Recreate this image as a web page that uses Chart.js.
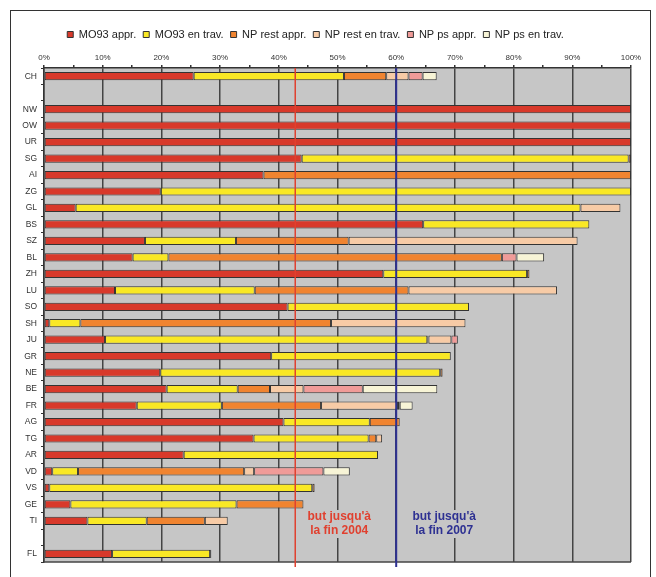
<!DOCTYPE html>
<html>
<head>
<meta charset="utf-8">
<script src="https://cdn.jsdelivr.net/npm/chart.js@4/dist/chart.umd.min.js"></script>
<style>
  html, body { margin: 0; padding: 0; background: #fff; }
  #wrap { width: 656px; height: 577px; }
</style>
</head>
<body>
<div id="wrap"><canvas id="myChart" width="656" height="577"></canvas></div>
<script>
// cantons (blank entries are the gaps in the list)
var cantons = ["CH", " ", "NW", "OW", "UR", "SG", "AI", "ZG", "GL", "BS", "SZ", "BL", "ZH", "LU", "SO",
               "SH", "JU", "GR", "NE", "BE", "FR", "AG", "TG", "AR", "VD", "VS", "GE", "TI", "  ", "FL"];

var seriesNames = ["MO93 appr.", "MO93 en trav.", "NP rest appr.", "NP rest en trav.", "NP ps appr.", "NP ps en trav."];

// percentages per segment
var mo93Appr     = [25.5, null, 100, 100, 100, 43.9, 37.4, 19.9, 5.4, 64.6, 17.2, 15.1, 57.8, 12.1, 41.5,
                    0.9, 10.4, 38.7, 19.8, 20.9, 15.8, 40.8, 35.7, 23.8, 1.4, 0.9, 4.5, 7.4, null, 11.6];
var mo93Trav     = [25.6, null, null, null, null, 55.7, null, 80.1, 86.0, 28.3, 15.5, 6.1, 24.5, 23.8, 30.9,
                    5.3, 54.9, 30.6, 47.7, 12.1, 14.5, 14.7, 19.6, 33.1, 4.4, 44.8, 28.3, 10.1, null, 16.7];
var npRestAppr   = [7.2, null, null, null, null, 0.4, 62.6, null, null, null, 19.2, 56.8, 0.4, 26.2, null,
                    42.7, 0.2, null, 0.4, 5.5, 16.9, 5.1, 1.3, null, 28.3, 0.4, 11.4, 9.9, null, 0.2];
var npRestTrav   = [3.8, null, null, null, null, null, null, null, 6.8, null, 39.0, null, null, 25.3, null,
                    22.9, 3.9, null, null, 5.7, 13.1, null, 1.0, null, 1.7, null, null, 3.9, null, null];
var npPsAppr     = [2.4, null, null, null, null, null, null, null, null, null, null, 2.5, null, null, null,
                    null, 1.1, null, null, 10.1, 0.3, null, null, null, 11.8, null, null, null, null, null];
var npPsTrav     = [2.4, null, null, null, null, null, null, null, null, null, null, 4.7, null, null, null,
                    null, null, null, null, 12.7, 2.2, null, null, null, 4.5, null, null, null, null, null];

var goals = [42.8, 60];
var goalTexts = [["but jusqu'à", "la fin 2004"], ["but jusqu'à", "la fin 2007"]];

var colors = ["#d8392b", "#f9e825", "#f08430", "#f7cba6", "#f09b98", "#f7f4d6"];
var goalColors = ["#e0402f", "#2e3192"];

var seriesData = [mo93Appr, mo93Trav, npRestAppr, npRestTrav, npPsAppr, npPsTrav];

var datasets = [];
for (var i = 0; i < seriesNames.length; i++) {
  datasets.push({
    label: seriesNames[i],
    data: seriesData[i],
    backgroundColor: colors[i],
    borderColor: "#333",
    borderWidth: 1,
    borderSkipped: false,
    barPercentage: 0.5,
    categoryPercentage: 1
  });
}

var extras = {
  id: "extras",
  beforeDraw: function (chart) {
    var c = chart.ctx, a = chart.chartArea;
    c.save();
    c.fillStyle = "#c6c6c6";
    c.fillRect(a.left, a.top, a.right - a.left, a.bottom - a.top);
    c.strokeStyle = "#333";
    c.lineWidth = 1;
    c.strokeRect(10.5, 10.5, 640, 600);
    c.restore();
  },
  afterDatasetsDraw: function (chart) {
    var c = chart.ctx, a = chart.chartArea, x = chart.scales.x;
    c.save();
    c.strokeStyle = "#444";
    c.lineWidth = 1.5;
    c.beginPath();
    c.moveTo(a.left, a.bottom);
    c.lineTo(a.right, a.bottom);
    c.stroke();
    for (var g = 0; g < goals.length; g++) {
      var px = x.getPixelForValue(goals[g]);
      c.strokeStyle = goalColors[g];
      c.lineWidth = g == 0 ? 1.5 : 2;
      c.beginPath();
      c.moveTo(px, a.top);
      c.lineTo(px, a.bottom + 5);
      c.stroke();
      // label, centered to the right of the line
      c.font = "bold 12px 'Liberation Sans', Arial, sans-serif";
      c.textAlign = "center";
      c.textBaseline = "middle";
      var cx = px + (g == 0 ? 44 : 48);
      var w = Math.max(c.measureText(goalTexts[g][0]).width, c.measureText(goalTexts[g][1]).width);
      c.fillStyle = "#c6c6c6";
      c.fillRect(cx - w / 2 - 2, 510, w + 4, 28);
      c.fillStyle = goalColors[g];
      c.fillText(goalTexts[g][0], cx, 517);
      c.fillText(goalTexts[g][1], cx, 531);
    }
    c.restore();
  }
};

new Chart("myChart", {
  type: "bar",
  data: { labels: cantons, datasets: datasets },
  options: {
    indexAxis: "y",
    responsive: false,
    animation: false,
    layout: { padding: { left: 0, right: 25, top: 22, bottom: 15 } },
    plugins: {
      legend: {
        position: "top",
        labels: {
          boxWidth: 6,
          boxHeight: 6,
          padding: 7,
          color: "#222",
          font: { family: "'Liberation Sans', Arial, sans-serif", size: 11 }
        }
      },
      tooltip: { enabled: false }
    },
    scales: {
      x: {
        position: "top",
        stacked: true,
        min: 0,
        max: 100,
        ticks: {
          stepSize: 5,
          autoSkip: false,
          maxRotation: 0,
          padding: 2,
          color: "#333",
          font: { family: "'Liberation Sans', Arial, sans-serif", size: 8 },
          callback: function (v) { return v % 10 == 0 ? v + "%" : ""; }
        },
        grid: {
          color: function (ctx) { return ctx.tick && ctx.tick.value % 10 == 0 ? "#444" : "rgba(0,0,0,0)"; },
          lineWidth: 1.5,
          tickColor: "#333",
          tickLength: 3
        },
        border: { color: "#333", width: 1.5 },
        afterFit: function (s) { s.height = 18; }
      },
      y: {
        stacked: true,
        ticks: {
          autoSkip: false,
          padding: 4,
          color: "#333",
          font: { family: "'Liberation Sans', Arial, sans-serif", size: 8.5 }
        },
        grid: { drawOnChartArea: false, tickColor: "#333", tickLength: 3, offset: true },
        border: { color: "#333", width: 1.5 },
        afterFit: function (s) { s.width = 44; }
      }
    }
  },
  plugins: [extras]
});
</script>
</body>
</html>
